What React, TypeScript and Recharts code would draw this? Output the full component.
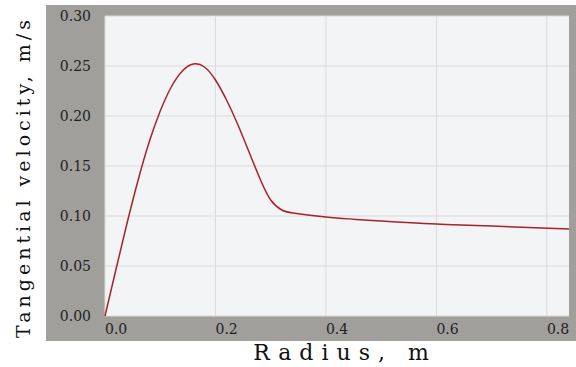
import React from "react";
import {
  LineChart,
  Line,
  XAxis,
  YAxis,
  CartesianGrid,
  Label,
} from "recharts";

const radius = [
  0, 0.02, 0.04, 0.06, 0.08, 0.1, 0.12, 0.14, 0.16, 0.18, 0.2, 0.22, 0.24,
  0.26, 0.28, 0.3, 0.32, 0.34, 0.4, 0.5, 0.6, 0.7, 0.84,
];
const velocity = [
  0, 0.047, 0.093, 0.136, 0.174, 0.205, 0.229, 0.245, 0.252, 0.249, 0.236,
  0.216, 0.192, 0.165, 0.138, 0.116, 0.106, 0.103, 0.099, 0.095, 0.092, 0.09,
  0.087,
];
const xTicks = [0, 0.2, 0.4, 0.6, 0.8];
const yTicks = [0, 0.05, 0.1, 0.15, 0.2, 0.25, 0.3];

const data = radius.map((r, i) => ({ r, v: velocity[i] }));

const font = "'DejaVu Serif', 'Liberation Serif', serif";

export default function App() {
  return (
    <div style={{ position: "relative", width: 576, height: 367 }}>
      <style>{"body{margin:0}"}</style>
      {/* grey paper frame behind the plot */}
      <div
        style={{
          position: "absolute",
          left: 46,
          top: 5,
          width: 530,
          height: 336,
          background: "#a09f9c",
        }}
      />
      <div style={{ position: "absolute", left: 0, top: 0 }}>
        <LineChart
          width={576}
          height={367}
          data={data}
          margin={{ top: 16, right: 7, left: 0, bottom: 0 }}
        >
          <CartesianGrid
            fill="#f3f4f6"
            stroke="#dadada"
            strokeWidth={1}
            horizontalValues={yTicks}
            verticalValues={xTicks}
          />
          <XAxis
            dataKey="r"
            type="number"
            domain={[0, 0.84]}
            ticks={xTicks}
            tickFormatter={(t: number) => t.toFixed(1)}
            axisLine={false}
            tickLine={false}
            height={51}
            tick={{ fill: "#222", fontSize: 14, fontFamily: font, textAnchor: "start" }}
          >
            <Label
              content={() => (
                <text
                  x={345}
                  y={360}
                  textAnchor="middle"
                  style={{
                    fontFamily: font,
                    fontSize: 22,
                    letterSpacing: 8,
                    fill: "#111",
                  }}
                >
                  Radius, m
                </text>
              )}
            />
          </XAxis>
          <YAxis
            type="number"
            domain={[0, 0.3]}
            ticks={yTicks}
            tickFormatter={(t: number) => t.toFixed(2)}
            axisLine={false}
            tickLine={false}
            tickMargin={8}
            width={105}
            tick={{ fill: "#222", fontSize: 14, fontFamily: font }}
          >
            <Label
              content={() => (
                <text
                  x={23}
                  y={177}
                  transform="rotate(-90, 23, 177)"
                  textAnchor="middle"
                  dominantBaseline="central"
                  style={{
                    fontFamily: font,
                    fontSize: 19,
                    letterSpacing: 4,
                    fill: "#111",
                  }}
                >
                  Tangential velocity, m/s
                </text>
              )}
            />
          </YAxis>
          <Line
            type="natural"
            dataKey="v"
            stroke="#a8232a"
            strokeWidth={1.5}
            dot={false}
            isAnimationActive={false}
          />
        </LineChart>
      </div>
    </div>
  );
}
